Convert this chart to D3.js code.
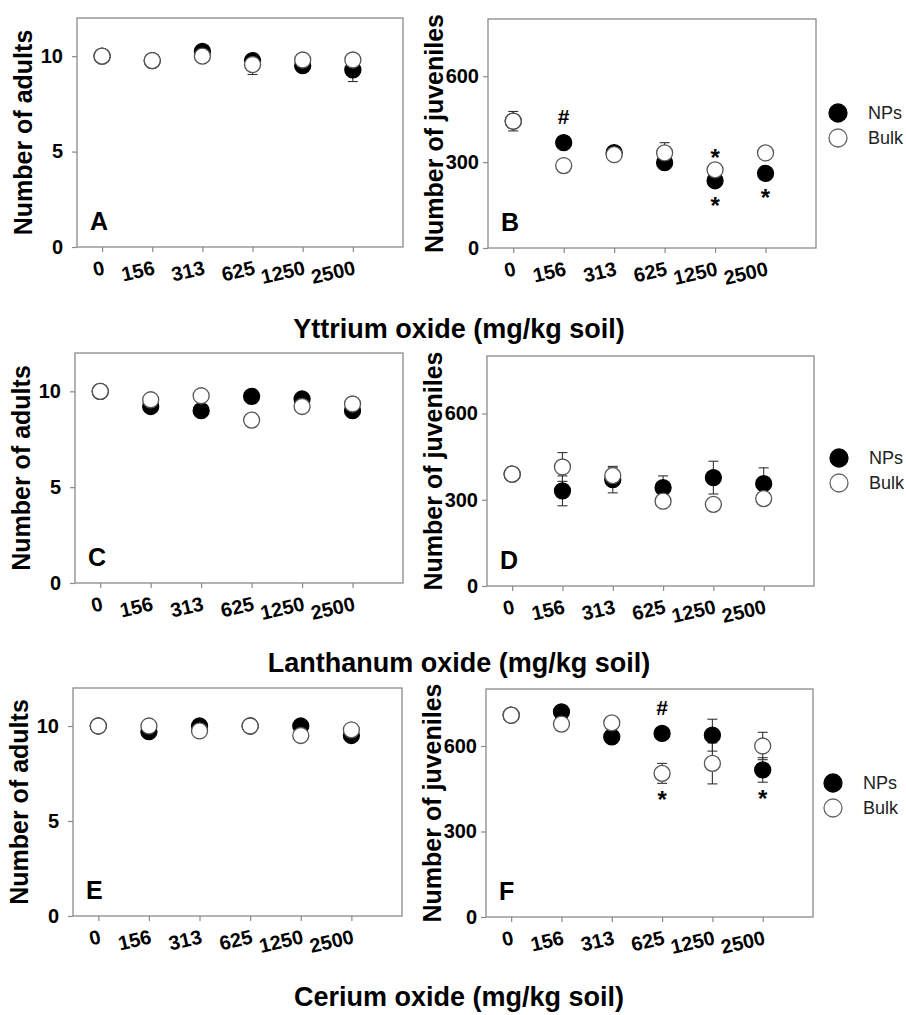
<!DOCTYPE html>
<html><head><meta charset="utf-8">
<script src="https://cdn.jsdelivr.net/npm/d3@7"></script>
<style>
body{margin:0;background:#fff}
svg{display:block}
text{font-family:"Liberation Sans",Arial,Helvetica,sans-serif}
</style>
</head><body>
<svg id="chart" width="906" height="1015"></svg>
<script>
// ---------------- data ----------------
const categories = ["0", "156", "313", "625", "1250", "2500"];
const adultTicks = [0, 5, 10];
const juvenileTicks = [0, 300, 600];
const seriesNames = ["NPs", "Bulk"];
const xTitles = ["Yttrium oxide (mg/kg soil)", "Lanthanum oxide (mg/kg soil)", "Cerium oxide (mg/kg soil)"];

// A: Yttrium, adults
const yAdultNPs      = [10, 9.77, 10.25, 9.77, 9.5, 9.28];
const yAdultNPsErr   = [0.1, 0.1, 0.1, 0.2, 0.2, 0.61];
const yAdultBulk     = [10, 9.77, 10.0, 9.56, 9.8, 9.8];
const yAdultBulkErr  = [0.1, 0.1, 0.1, 0.52, 0.1, 0.1];
// B: Yttrium, juveniles
const yJuvNPs        = [443, 368, 333, 298, 235, 261];
const yJuvNPsErr     = [20, 15, 10, 15, 15, 12];
const yJuvBulk       = [443, 288, 326, 332, 273, 332];
const yJuvBulkErr    = [34, 10, 10, 36, 12, 10];
// C: Lanthanum, adults
const laAdultNPs     = [10, 9.21, 8.99, 9.74, 9.6, 8.99];
const laAdultNPsErr  = [0.1, 0.2, 0.1, 0.1, 0.25, 0.1];
const laAdultBulk    = [10, 9.56, 9.77, 8.5, 9.21, 9.34];
const laAdultBulkErr = [0.1, 0.3, 0.1, 0.1, 0.3, 0.1];
// D: Lanthanum, juveniles
const laJuvNPs       = [389, 331, 370, 342, 377, 356];
const laJuvNPsErr    = [10, 52, 46, 41, 57, 55];
const laJuvBulk      = [389, 414, 384, 295, 284, 304];
const laJuvBulkErr   = [10, 50, 27, 10, 10, 10];
// E: Cerium, adults
const ceAdultNPs     = [10, 9.7, 10.0, 10, 10.0, 9.5];
const ceAdultNPsErr  = [0.1, 0.1, 0.1, 0.1, 0.1, 0.1];
const ceAdultBulk    = [10, 10, 9.74, 10, 9.5, 9.8];
const ceAdultBulkErr = [0.1, 0.1, 0.2, 0.1, 0.2, 0.1];
// F: Cerium, juveniles
const ceJuvNPs       = [708, 720, 632, 644, 638, 516];
const ceJuvNPsErr    = [10, 10, 15, 20, 56, 43];
const ceJuvBulk      = [708, 677, 681, 504, 539, 600];
const ceJuvBulkErr   = [10, 10, 10, 35, 72, 48];

const annotations = [
  {panel: "B", cat: "156",  series: "NPs",  symbol: "#", side: "above"},
  {panel: "B", cat: "1250", series: "Bulk", symbol: "*", side: "above"},
  {panel: "B", cat: "1250", series: "NPs",  symbol: "*", side: "below"},
  {panel: "B", cat: "2500", series: "NPs",  symbol: "*", side: "below"},
  {panel: "F", cat: "625",  series: "NPs",  symbol: "#", side: "above"},
  {panel: "F", cat: "625",  series: "Bulk", symbol: "*", side: "below"},
  {panel: "F", cat: "2500", series: "NPs",  symbol: "*", side: "below"}
];

// ---------------- layout ----------------
const panels = [
  {id: "A", box: [77, 403, 18, 247],  ymax: 12,  ticks: adultTicks,    label: "Number of adults",    nps: yAdultNPs,  npsErr: yAdultNPsErr,  bulk: yAdultBulk,  bulkErr: yAdultBulkErr,  pad: 9, legend: false},
  {id: "B", box: [488, 816, 19, 248], ymax: 800, ticks: juvenileTicks, label: "Number of juveniles", nps: yJuvNPs,    npsErr: yJuvNPsErr,    bulk: yJuvBulk,    bulkErr: yJuvBulkErr,    pad: 4, legend: true, lg: [838, 113]},
  {id: "C", box: [75, 403, 353, 583], ymax: 12,  ticks: adultTicks,    label: "Number of adults",    nps: laAdultNPs, npsErr: laAdultNPsErr, bulk: laAdultBulk, bulkErr: laAdultBulkErr, pad: 9, legend: false},
  {id: "D", box: [487, 814, 356, 586],ymax: 800, ticks: juvenileTicks, label: "Number of juveniles", nps: laJuvNPs,   npsErr: laJuvNPsErr,   bulk: laJuvBulk,   bulkErr: laJuvBulkErr,   pad: 4, legend: true, lg: [839, 458]},
  {id: "E", box: [73, 402, 688, 916], ymax: 12,  ticks: adultTicks,    label: "Number of adults",    nps: ceAdultNPs, npsErr: ceAdultNPsErr, bulk: ceAdultBulk, bulkErr: ceAdultBulkErr, pad: 9, legend: false},
  {id: "F", box: [486, 813, 689, 917],ymax: 800, ticks: juvenileTicks, label: "Number of juveniles", nps: ceJuvNPs,   npsErr: ceJuvNPsErr,   bulk: ceJuvBulk,   bulkErr: ceJuvBulkErr,   pad: 4, legend: true, lg: [833, 783]}
];
const titleY = [338, 672, 1006];

const svg = d3.select("#chart");
const frameColor = "#8a8a8a";
const R = 8;
const FF = "'Liberation Sans',Arial,sans-serif";

panels.forEach(p => {
  const [x0, x1, y0, y1] = p.box;
  const x = d3.scaleLinear().domain([-0.5, categories.length]).range([x0, x1]);
  const y = d3.scaleLinear().domain([0, p.ymax]).range([y1, y0]);
  const g = svg.append("g");

  // frame
  g.append("rect").attr("x", x0).attr("y", y0).attr("width", x1 - x0).attr("height", y1 - y0)
    .attr("fill", "none").attr("stroke", frameColor).attr("stroke-width", 1.3);

  // y axis
  const ya = g.append("g").attr("transform", `translate(${x0},0)`)
    .call(d3.axisLeft(y).tickValues(p.ticks).tickSize(5).tickPadding(p.pad));
  ya.select(".domain").remove();
  ya.selectAll(".tick line").attr("stroke", frameColor).attr("stroke-width", 1.2);
  ya.selectAll(".tick text").attr("font-size", 20).attr("font-weight", "bold").attr("fill", "#000")
    .attr("font-family", FF);

  // x axis
  const xa = g.append("g").attr("transform", `translate(0,${y1})`)
    .call(d3.axisBottom(x).tickValues(d3.range(categories.length)).tickFormat(i => categories[i]).tickSize(5));
  xa.select(".domain").remove();
  xa.selectAll(".tick line").attr("stroke", frameColor).attr("stroke-width", 1.2);
  xa.selectAll(".tick text")
    .attr("font-size", 20).attr("font-weight", "bold").attr("fill", "#000")
    .attr("font-family", FF)
    .attr("text-anchor", "end").attr("y", 0).attr("dy", 0)
    .attr("transform", "translate(3,27) rotate(-13)");

  // y label
  g.append("text")
    .attr("transform", `translate(${x0 - 54},${(y0 + y1) / 2}) rotate(-90)`)
    .attr("text-anchor", "middle").attr("dy", "0.36em")
    .attr("font-size", 25).attr("font-weight", "bold").text(p.label);

  // panel letter
  g.append("text").attr("x", x0 + 13).attr("y", y1 - 17)
    .attr("font-size", 25).attr("font-weight", "bold").text(p.id);

  const series = [
    {name: "NPs", vals: p.nps, err: p.npsErr, fill: "#000", stroke: "#000"},
    {name: "Bulk", vals: p.bulk, err: p.bulkErr, fill: "#fff", stroke: "#555"}
  ];

  // error bars
  series.forEach(s => {
    const eg = g.append("g").attr("stroke", "#333").attr("stroke-width", 1.1).attr("fill", "none");
    s.vals.forEach((v, i) => {
      const cx = x(i), lo = y(v - s.err[i]), hi = y(v + s.err[i]);
      eg.append("line").attr("x1", cx).attr("x2", cx).attr("y1", lo).attr("y2", hi);
      eg.append("line").attr("x1", cx - 5).attr("x2", cx + 5).attr("y1", lo).attr("y2", lo);
      eg.append("line").attr("x1", cx - 5).attr("x2", cx + 5).attr("y1", hi).attr("y2", hi);
    });
  });

  // points
  series.forEach(s => {
    g.append("g").selectAll("circle").data(s.vals).join("circle")
      .attr("cx", (d, i) => x(i)).attr("cy", d => y(d)).attr("r", R)
      .attr("fill", s.fill).attr("stroke", s.stroke).attr("stroke-width", 1.3);
  });

  // annotations
  annotations.filter(a => a.panel === p.id).forEach(a => {
    const i = categories.indexOf(a.cat);
    const s = series.find(t => t.name === a.series);
    const v = s.vals[i], e = s.err[i];
    let cy;
    if (a.side === "above") {
      const edge = Math.min(y(v) - R, y(v + e));
      cy = edge - (a.symbol === "#" ? 18 : 10);
    } else {
      const edge = Math.max(y(v) + R, y(v - e));
      cy = edge + 11;
    }
    const fs = a.symbol === "#" ? 21 : 24;
    const base = a.symbol === "#" ? cy + 0.36 * fs : cy + 0.58 * fs;
    g.append("text").attr("x", x(i)).attr("y", base).attr("text-anchor", "middle")
      .attr("font-size", fs).attr("font-weight", "bold").text(a.symbol);
  });

  // legend
  if (p.legend) {
    const [lx, ly] = p.lg;
    series.forEach((s, k) => {
      const yy = ly + k * 25;
      g.append("circle").attr("cx", lx).attr("cy", yy).attr("r", 9)
        .attr("fill", s.fill).attr("stroke", k === 0 ? "#000" : "#666").attr("stroke-width", 1.3);
      g.append("text").attr("x", lx + 30).attr("y", yy).attr("dy", "0.36em")
        .attr("font-size", 18).attr("fill", "#222").text(seriesNames[k]);
    });
  }
});

// x titles
xTitles.forEach((t, k) => {
  svg.append("text").attr("x", 459).attr("y", titleY[k]).attr("text-anchor", "middle")
    .attr("font-size", 27).attr("font-weight", "bold").text(t);
});
</script>
</body></html>
